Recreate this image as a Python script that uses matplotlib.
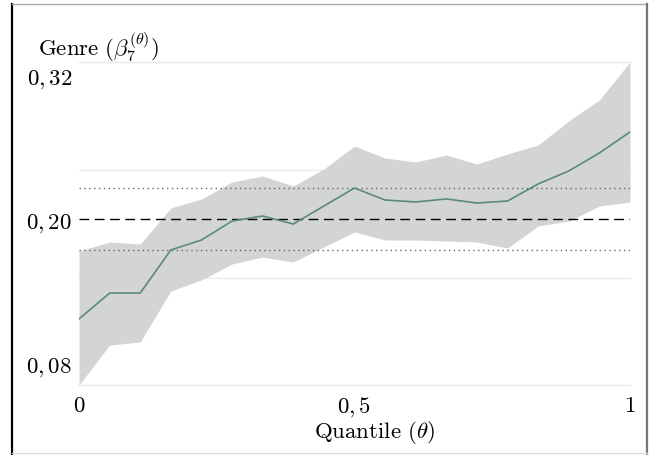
import matplotlib
matplotlib.use("Agg")
import matplotlib.pyplot as plt
from matplotlib.lines import Line2D

plt.rcParams['mathtext.fontset'] = 'cm'
plt.rcParams['font.family'] = ['DejaVu Serif']

# quantiles
theta = [0.0, 0.0556, 0.1111, 0.1667, 0.2222, 0.2778, 0.3333, 0.3889, 0.4444, 0.5,
         0.5556, 0.6111, 0.6667, 0.7222, 0.7778, 0.8333, 0.8889, 0.9444, 1.0]
# quantile regression coefficient
coef = [0.1167, 0.1383, 0.1383, 0.1742, 0.1825, 0.1983, 0.2025, 0.1958, 0.2108, 0.2258,
        0.2158, 0.2142, 0.2167, 0.2133, 0.2150, 0.2292, 0.2400, 0.2550, 0.2725]
upper = [0.1733, 0.1808, 0.1792, 0.2092, 0.2167, 0.2308, 0.2358, 0.2275, 0.2417, 0.2608,
         0.2508, 0.2475, 0.2533, 0.2458, 0.2542, 0.2617, 0.2817, 0.2992, 0.3308]
lower = [0.0617, 0.0950, 0.0975, 0.1400, 0.1492, 0.1625, 0.1683, 0.1642, 0.1767, 0.1892,
         0.1825, 0.1825, 0.1817, 0.1808, 0.1758, 0.1942, 0.1983, 0.2108, 0.2142]
# OLS estimate and its confidence interval
ols = 0.20
ols_ci = [0.1742, 0.2258]

ytick_vals = [0.08, 0.20, 0.32]
ytick_labels = ['$0,08$', '$0,20$', '$0,32$']
xtick_vals = [0, 0.5, 1]
xtick_labels = ['$0$', '$0,5$', '$1$']
grid_vals = [0.0617, 0.1508, 0.2408, 0.3308]

FS = 16.5
W, H = 649, 456
fig = plt.figure(figsize=(W / 100, H / 100), dpi=100)
ax = fig.add_axes([79 / W, (H - 386) / H, (630 - 79) / W, (386 - 63) / H])

for g in grid_vals:
    ax.axhline(g, color='#e2eeee', lw=1.0, zorder=0, clip_on=False)

ax.fill_between(theta, lower, upper, color='#d3d4d4', lw=0, zorder=1)
ax.plot(theta, coef, color='#5b8a7b', lw=1.2, zorder=3)
ax.axhline(ols, color='black', lw=1.0, ls=(0, (7, 4)), zorder=2)
for c in ols_ci:
    ax.axhline(c, color='#666666', lw=1.0, ls=(0, (1, 2.5)), zorder=2)

ax.set_xlim(0, 1)
ax.set_ylim(grid_vals[0], grid_vals[-1])
ax.set_yticks(ytick_vals)
ax.set_yticklabels(ytick_labels)
ax.set_xticks(xtick_vals)
ax.set_xticklabels(xtick_labels)
ax.tick_params(length=0, labelsize=FS, colors='black')
ax.tick_params(axis='y', pad=5)
ax.tick_params(axis='x', pad=6.5)
for s in ax.spines.values():
    s.set_visible(False)
ax.patch.set_alpha(0)

fig.text(375 / W, 1 - 433 / H, r'$\mathrm{Quantile}\ (\theta)$', ha='center', va='center', fontsize=FS)
fig.text(38 / W, 1 - 47 / H, r'$\mathrm{Genre}\ (\beta_7^{(\theta)})$', ha='left', va='center', fontsize=FS)

# outer frame
fig.add_artist(Line2D([12 / W, 12 / W], [0, 1 - 5 / H], transform=fig.transFigure, color='black', lw=1.6))
fig.add_artist(Line2D([12 / W, 647 / W], [1 - 5 / H, 1 - 5 / H], transform=fig.transFigure, color='#aaaaaa', lw=1.0))
fig.add_artist(Line2D([647 / W, 647 / W], [1 - 5 / H, 0], transform=fig.transFigure, color='#777777', lw=1.6))
fig.add_artist(Line2D([12 / W, 647 / W], [1 - 454 / H, 1 - 454 / H], transform=fig.transFigure, color='#dddddd', lw=1.0))

fig.savefig('out.png', dpi=100)
